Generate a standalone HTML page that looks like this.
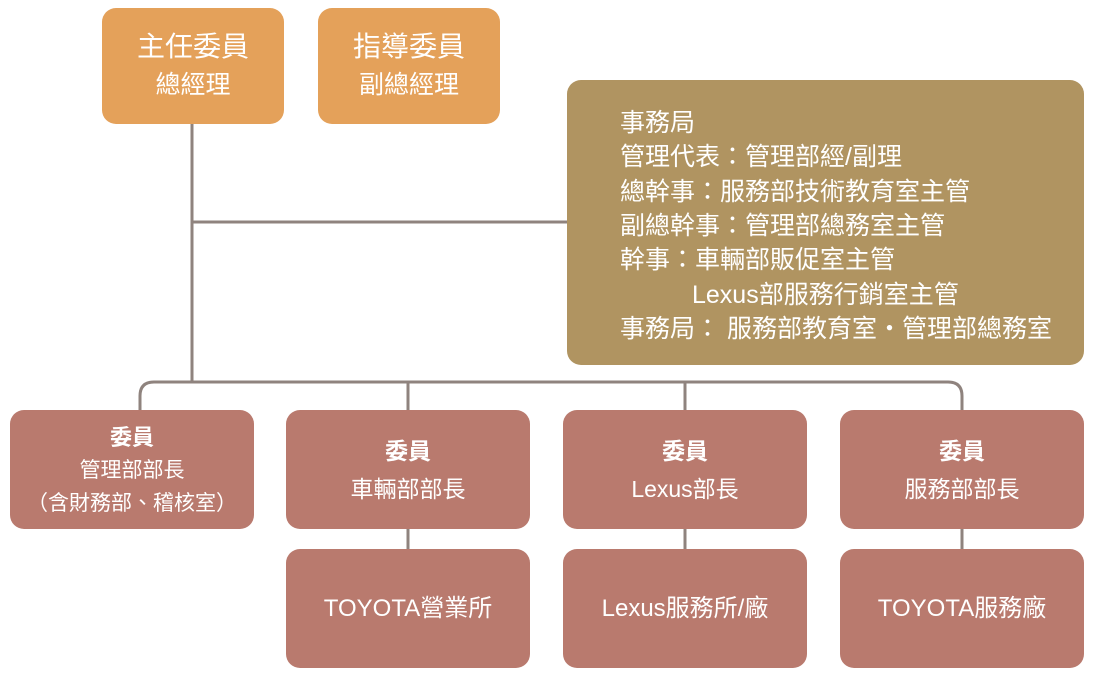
<!DOCTYPE html>
<html><head><meta charset="utf-8"><style>
body{margin:0;width:1100px;height:680px;background:#fff;position:relative;overflow:hidden;font-family:"Liberation Sans","Noto Sans CJK TC",sans-serif;color:#fff}
.b{position:absolute;border-radius:14px;display:flex;flex-direction:column;justify-content:center;align-items:center;text-align:center}
.o{background:#E4A15A;font-size:28px;line-height:38px}
.r{background:#B97A6E;font-size:23px;line-height:38px}
.r b{font-weight:bold}
svg{position:absolute;left:0;top:0}
.g{position:absolute;left:567px;top:80px;width:517px;height:285px;background:#B09461;border-radius:14px}
.g div{position:absolute;left:53px;font-size:25px;line-height:34px;white-space:pre}
</style></head><body>
<svg width="1100" height="680"><g stroke="#8F837E" stroke-width="3" fill="none">
<path d="M192 124V382M192 222H567"/>
<path d="M140 410V396Q140 382 154 382H948Q962 382 962 396V410"/>
<path d="M408 382V410M685 382V410M408 529V549M685 529V549M962 529V549"/>
</g></svg>
<div class="b o" style="left:102px;top:8px;width:182px;height:116px"><div>主任委員</div><div style="font-size:25px">總經理</div></div>
<div class="b o" style="left:318px;top:8px;width:182px;height:116px"><div>指導委員</div><div style="font-size:25px">副總經理</div></div>
<div class="g">
<div style="top:26px">事務局</div>
<div style="top:60px">管理代表：管理部經/副理</div>
<div style="top:95px">總幹事：服務部技術教育室主管</div>
<div style="top:129px">副總幹事：管理部總務室主管</div>
<div style="top:163px">幹事：車輛部販促室主管</div>
<div style="top:198px;left:125px">Lexus部服務行銷室主管</div>
<div style="top:232px">事務局： 服務部教育室・管理部總務室</div>
</div>
<div class="b r" style="left:10px;top:410px;width:244px;height:119px;font-size:21px;line-height:33px"><b style="font-size:22px;margin-top:2px">委員</b><div>管理部部長</div><div>（含財務部、稽核室）</div></div>
<div class="b r" style="left:286px;top:410px;width:244px;height:119px"><b>委員</b><div>車輛部部長</div></div>
<div class="b r" style="left:563px;top:410px;width:244px;height:119px"><b>委員</b><div>Lexus部長</div></div>
<div class="b r" style="left:840px;top:410px;width:244px;height:119px"><b>委員</b><div>服務部部長</div></div>
<div class="b r" style="left:286px;top:549px;width:244px;height:119px;font-size:24px"><div>TOYOTA營業所</div></div>
<div class="b r" style="left:563px;top:549px;width:244px;height:119px;font-size:24px"><div>Lexus服務所/廠</div></div>
<div class="b r" style="left:840px;top:549px;width:244px;height:119px;font-size:24px"><div>TOYOTA服務廠</div></div>
</body></html>
